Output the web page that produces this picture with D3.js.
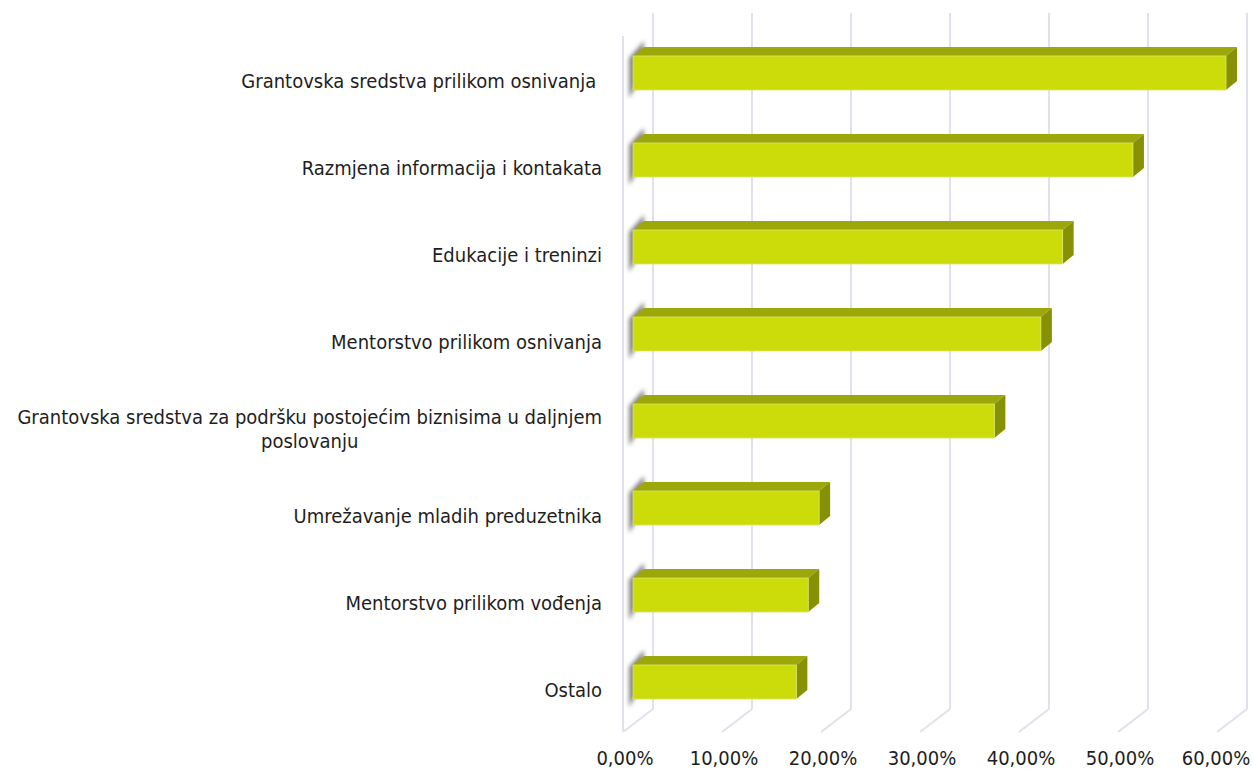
<!DOCTYPE html>
<html>
<head>
<meta charset="utf-8">
<script src="https://cdn.jsdelivr.net/npm/d3@7"></script>
<style>
  body { margin: 0; background: #fff; }
  text { font-family: "DejaVu Sans Condensed", "Liberation Sans Narrow", sans-serif; fill: #1e1e1e; white-space: pre; }
</style>
</head>
<body>
<div id="chart"></div>
<script>
// categories top to bottom, values in percent
let categories = [
    "Grantovska sredstva prilikom osnivanja ",
    "Razmjena informacija i kontakata",
    "Edukacije i treninzi",
    "Mentorstvo prilikom osnivanja",
    "Grantovska sredstva za podršku postojećim biznisima u daljnjem|poslovanju",
    "Umrežavanje mladih preduzetnika",
    "Mentorstvo prilikom vođenja",
    "Ostalo"
];
let values = [59.9, 50.5, 43.4, 41.2, 36.5, 18.8, 17.7, 16.5];
let tickValues = [0, 10, 20, 30, 40, 50, 60];
let tickLabels = ["0,00%", "10,00%", "20,00%", "30,00%", "40,00%", "50,00%", "60,00%"];

function mainChart() {
    let w = 1253, h = 771;
    let wallDx = 30, wallDy = 23;     // depth of the plot box
    let barOff = 10;                   // bar front plane behind the floor edge
    let barDx = 11, barDy = 9;         // bar depth
    let floorY = 732, backFloorY = floorY - wallDy, topY = 13;
    let labelFont = "20px";

    let colFront = "#cbdc0a", colTop = "#9ca809", colSide = "#879105";
    let gridColor = "#dfe2ea";

    let xFront = d3.scaleLinear().domain([0, 60]).range([623, 1217]);
    let xBack = d3.scaleLinear().domain([0, 60]).range([623 + wallDx, 1217 + wallDx]);
    let xBar = d3.scaleLinear().domain([0, 60]).range([623 + barOff, 1217 + barOff]);

    let y = d3.scaleBand()
        .domain(categories)
        .range([3, 752])
        .paddingInner(0.609)
        .paddingOuter(0.609);

    let svg = d3.select("#chart")
        .append("svg")
        .attr("width", w)
        .attr("height", h);

    let defs = svg.append("defs");
    defs.append("filter")
        .attr("id", "blur")
        .attr("x", "-50%").attr("y", "-50%")
        .attr("width", "200%").attr("height", "200%")
        .append("feGaussianBlur")
        .attr("stdDeviation", 2.2);

    // back wall gridlines + floor diagonals
    let grid = svg.append("g");
    grid.selectAll("line.back")
        .data(tickValues)
        .enter().append("line")
        .attr("class", "back")
        .attr("x1", d => xBack(d)).attr("x2", d => xBack(d))
        .attr("y1", topY).attr("y2", backFloorY)
        .style("stroke", gridColor).style("stroke-width", 2);
    grid.selectAll("line.floor")
        .data(tickValues)
        .enter().append("line")
        .attr("class", "floor")
        .attr("x1", d => xBack(d)).attr("x2", d => xFront(d))
        .attr("y1", backFloorY).attr("y2", floorY)
        .style("stroke", gridColor).style("stroke-width", 2);
    // left wall front edge
    grid.append("line")
        .attr("x1", xFront(0)).attr("x2", xFront(0))
        .attr("y1", topY + wallDy).attr("y2", floorY)
        .style("stroke", gridColor).style("stroke-width", 2);

    let data = categories.map((c, i) => ({cat: c, value: values[i]}));

    let bars = svg.selectAll("g.bar")
        .data(data)
        .enter().append("g")
        .attr("class", "bar");

    // soft shadow on the left wall
    bars.append("polygon")
        .attr("points", function(d) {
            let x0 = xBar(0), y0 = y(d.cat), bh = y.bandwidth();
            return [[x0 - 4, y0 + 2], [x0 + barDx, y0 - barDy - 6], [x0 + barDx, y0 + bh - barDy - 8], [x0 - 4, y0 + bh + 8]].join(" ");
        })
        .style("fill", "#5e5e5e")
        .style("opacity", 0.75)
        .attr("filter", "url(#blur)");

    // top face
    bars.append("polygon")
        .attr("points", function(d) {
            let x0 = xBar(0), x1 = xBar(d.value), y0 = y(d.cat);
            return [[x0, y0], [x0 + barDx, y0 - barDy], [x1 + barDx, y0 - barDy], [x1, y0]].join(" ");
        })
        .style("fill", colTop);

    // side face
    bars.append("polygon")
        .attr("points", function(d) {
            let x1 = xBar(d.value), y0 = y(d.cat), bh = y.bandwidth();
            return [[x1, y0], [x1 + barDx, y0 - barDy], [x1 + barDx, y0 + bh - barDy], [x1, y0 + bh]].join(" ");
        })
        .style("fill", colSide);

    // front face
    bars.append("rect")
        .attr("x", xBar(0))
        .attr("y", d => y(d.cat))
        .attr("width", d => xBar(d.value) - xBar(0))
        .attr("height", y.bandwidth())
        .style("fill", colFront)
        .style("stroke", "#dbe46a")
        .style("stroke-width", 0.8);

    // category labels (multi-line split on "|")
    let labels = svg.selectAll("text.cat")
        .data(data)
        .enter().append("text")
        .attr("class", "cat")
        .style("font-size", labelFont)
        .attr("text-anchor", "middle")
        .each(function(d) {
            let lines = d.cat.split("|");
            let t = d3.select(this);
            let cy = y(d.cat) + y.bandwidth() / 2;
            let base = lines.length == 1 ? cy + 15 : cy + 3;
            lines.forEach(function(line, i) {
                t.append("tspan")
                    .attr("y", base + i * 24)
                    .text(line);
            });
        });

    // block right-aligned at x=602, lines centered within the block
    labels.each(function() {
        let t = d3.select(this);
        let maxW = 0;
        t.selectAll("tspan").each(function() {
            maxW = Math.max(maxW, this.getComputedTextLength());
        });
        t.selectAll("tspan").attr("x", 602 - maxW / 2);
    });

    // tick labels
    svg.selectAll("text.tick")
        .data(tickValues)
        .enter().append("text")
        .attr("class", "tick")
        .style("font-size", labelFont)
        .attr("text-anchor", "middle")
        .attr("x", (d, i) => i == tickValues.length - 1 ? xFront(d) - 1 : xFront(d) + 2)
        .attr("y", 765)
        .text((d, i) => tickLabels[i]);
}

mainChart();
</script>
</body>
</html>
